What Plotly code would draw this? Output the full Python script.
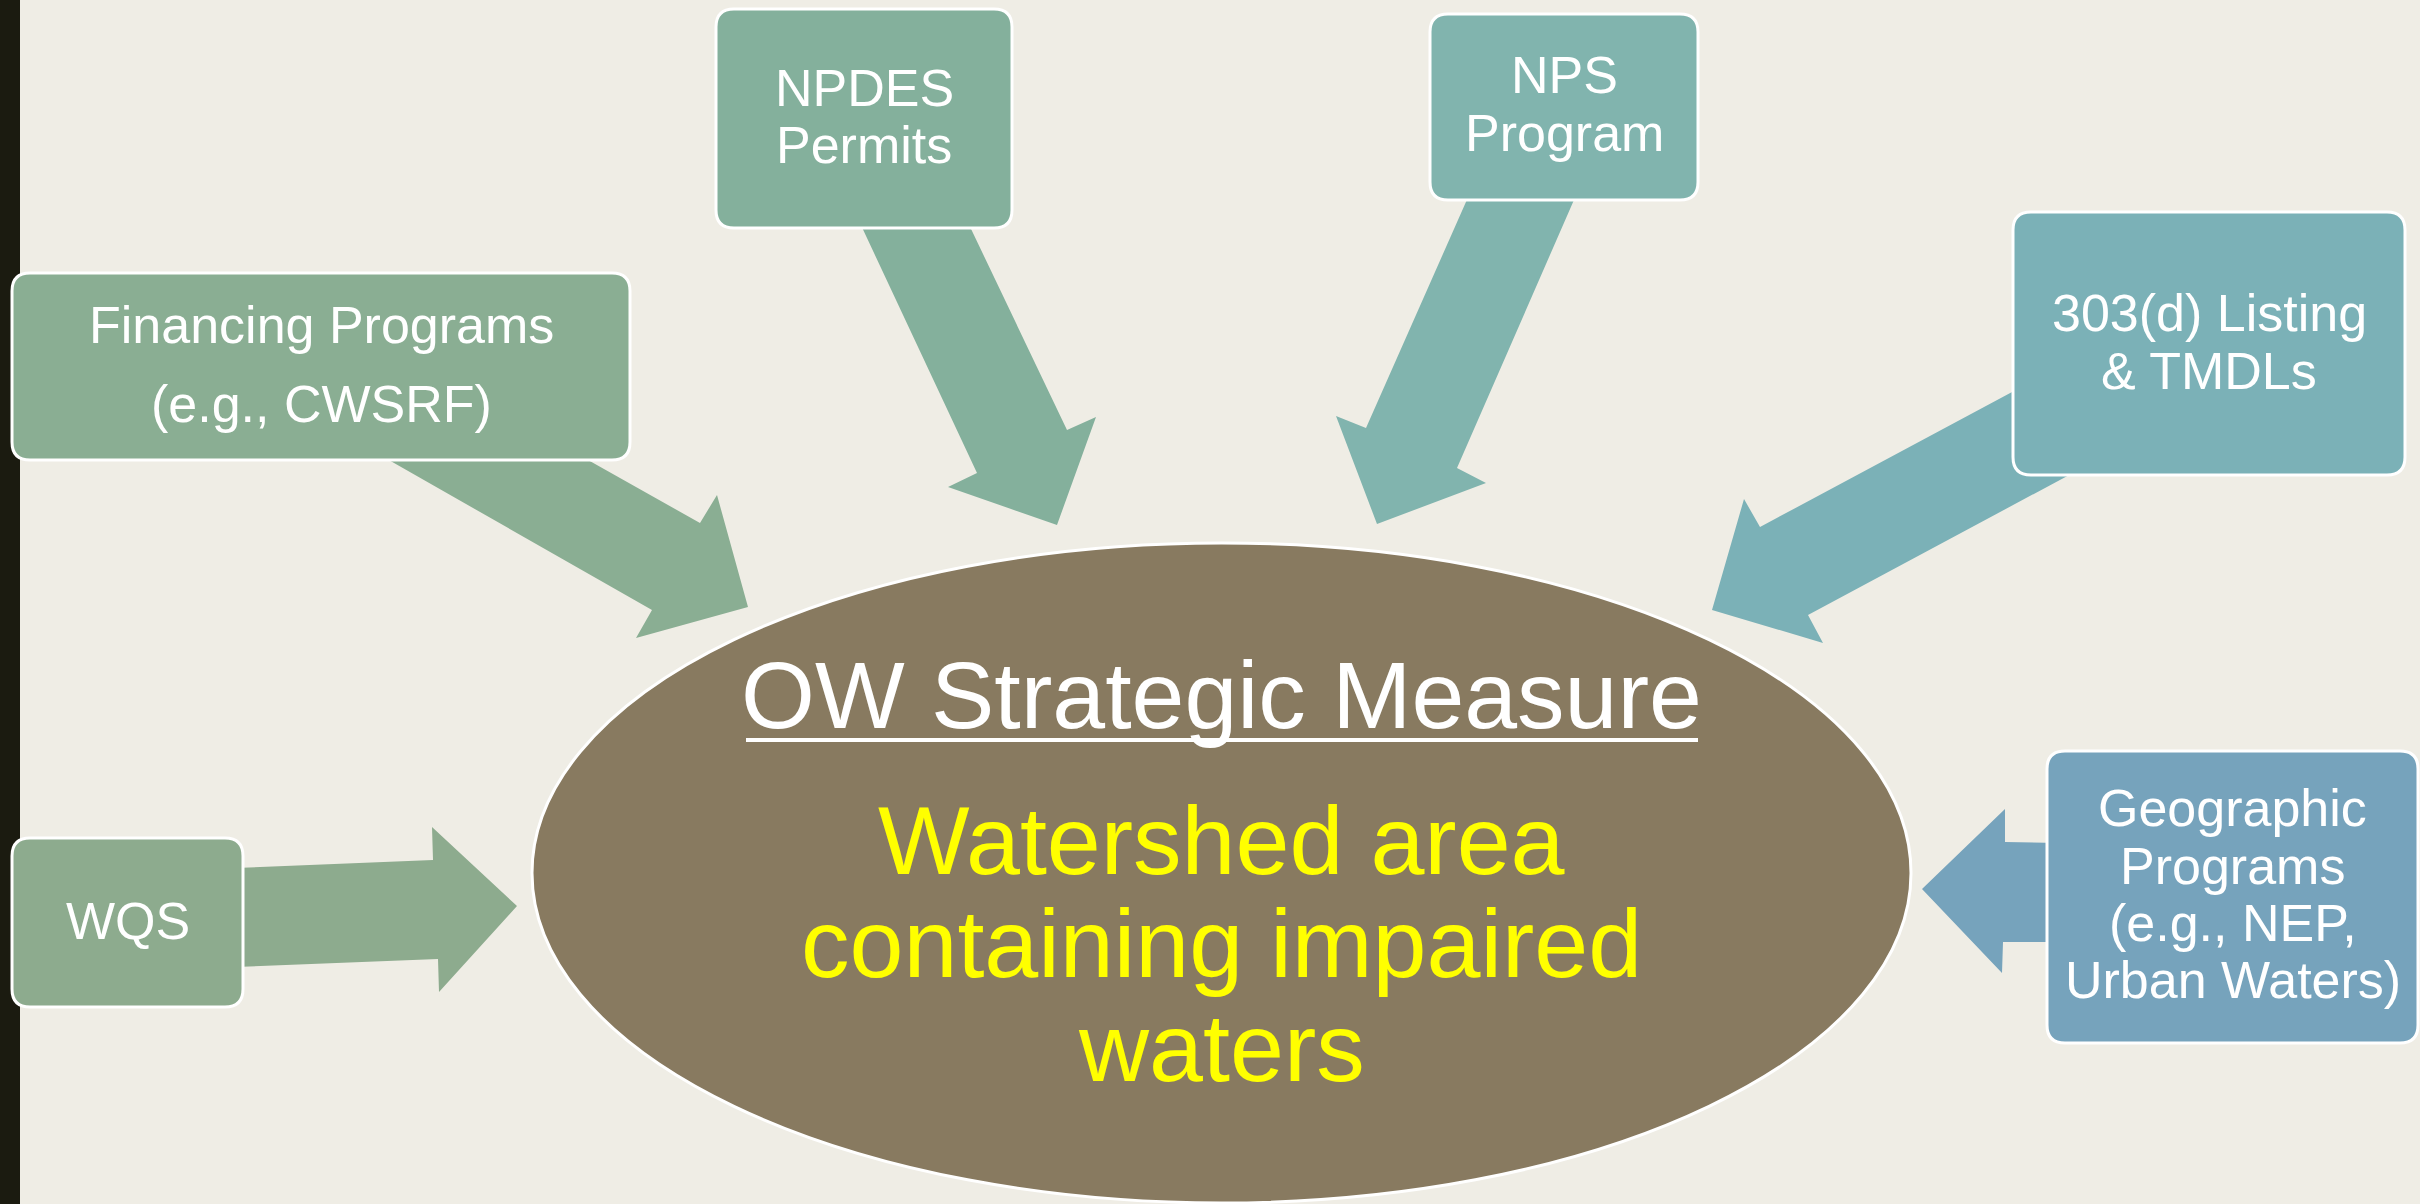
import plotly.graph_objects as go

W, H = 2420, 1204
BG = "#efede5"
FONT = "Liberation Sans, Arial, sans-serif"

# Boxes: label lines, box extents (x0, y0, x1, y1), fill colour, line centre y's
box_names = ["Financing", "NPDES", "NPS", "303d", "WQS", "Geographic"]
box_lines = [
    ["Financing Programs", "(e.g., CWSRF)"],
    ["NPDES", "Permits"],
    ["NPS", "Program"],
    ["303(d) Listing", "& TMDLs"],
    ["WQS"],
    ["Geographic", "Programs", "(e.g., NEP,", "Urban Waters)"],
]
box_extent = [
    (12, 273, 630, 460),
    (716, 9, 1012, 228),
    (1430, 14, 1698, 200),
    (2013, 212, 2405, 475),
    (12, 838, 243, 1007),
    (2047, 751, 2418, 1043),
]
box_line_y = [
    [325, 404],
    [88, 145],
    [75, 133],
    [313, 371],
    [921],
    [808, 866, 923, 980],
]
box_colors = ["#8aae93", "#84b09c", "#81b4ae", "#7bb1b7", "#8dab8e", "#76a3bc"]

# Arrow outlines (block arrows) from each box toward the ellipse
arrow_pts = [
    [(366, 447), (572, 451), (700, 523), (717, 495), (748, 607), (636, 638), (652, 610)],
    [(852, 206), (962, 210), (1067, 430), (1096, 417), (1057, 525), (948, 487), (977, 473)],
    [(1477, 177), (1584, 177), (1457, 468), (1486, 483), (1377, 524), (1336, 416), (1366, 428)],
    [(2085, 353), (2140, 437), (1808, 615), (1823, 643), (1712, 610), (1744, 499), (1760, 527)],
    [(235, 868), (433, 860), (432, 827), (517, 906), (439, 992), (438, 959), (235, 967)],
    [(2060, 843), (2005, 842), (2005, 809), (1922, 889), (2002, 973), (2003, 942), (2060, 942)],
]

# Central ellipse
ellipse = (532, 543, 1911, 1203)
title_text = "OW Strategic Measure"
title_y = 695
measure_lines = ["Watershed area", "containing impaired", "waters"]
measure_y = [840, 943, 1047]


def poly_path(pts):
    return "M " + " L ".join(f"{x},{y}" for x, y in pts) + " Z"


def rrect_path(x0, y0, x1, y1, r):
    return (f"M {x0+r},{y0} L {x1-r},{y0} Q {x1},{y0} {x1},{y0+r} "
            f"L {x1},{y1-r} Q {x1},{y1} {x1-r},{y1} "
            f"L {x0+r},{y1} Q {x0},{y1} {x0},{y1-r} "
            f"L {x0},{y0+r} Q {x0},{y0} {x0+r},{y0} Z")


shapes = []
# left dark bar
shapes.append(dict(type="rect", x0=0, x1=20, y0=0, y1=H, fillcolor="#1b1b10",
                   line=dict(width=0), layer="below"))
# arrows
for pts, col in zip(arrow_pts, box_colors):
    shapes.append(dict(type="path", path=poly_path(pts), fillcolor=col,
                       line=dict(width=0)))
# ellipse
ex0, ey0, ex1, ey1 = ellipse
shapes.append(dict(type="circle", x0=ex0, y0=ey0, x1=ex1, y1=ey1,
                   fillcolor="#887a60", line=dict(color="white", width=3)))
# underline of title
shapes.append(dict(type="line", x0=746, x1=1698, y0=740, y1=740,
                   line=dict(color="white", width=4)))
# boxes
for (x0, y0, x1, y1), col in zip(box_extent, box_colors):
    shapes.append(dict(type="path", path=rrect_path(x0, y0, x1, y1, 18),
                       fillcolor=col, line=dict(color="white", width=3)))

annotations = []
for lines, (x0, y0, x1, y1), ys in zip(box_lines, box_extent, box_line_y):
    for t, y in zip(lines, ys):
        annotations.append(dict(x=(x0 + x1) / 2, y=y, text=t, showarrow=False,
                                xanchor="center", yanchor="middle",
                                font=dict(family=FONT, size=52, color="white")))

cx = (ex0 + ex1) / 2
annotations.append(dict(x=cx, y=title_y, text=title_text, showarrow=False,
                        xanchor="center", yanchor="middle",
                        font=dict(family=FONT, size=95, color="white")))
for t, y in zip(measure_lines, measure_y):
    annotations.append(dict(x=cx, y=y, text=t, showarrow=False,
                            xanchor="center", yanchor="middle",
                            font=dict(family=FONT, size=97, color="#ffff00")))

fig = go.Figure()
fig.update_layout(
    width=W, height=H,
    margin=dict(l=0, r=0, t=0, b=0),
    paper_bgcolor=BG, plot_bgcolor=BG,
    xaxis=dict(range=[0, W], visible=False, fixedrange=True),
    yaxis=dict(range=[H, 0], visible=False, fixedrange=True),
    shapes=shapes,
    annotations=annotations,
    showlegend=False,
)
fig.write_html(
    "out.html",
    config={"displayModeBar": False},
    post_script="document.body.style.margin='0';document.body.style.overflow='hidden';"
                "document.body.style.background='" + BG + "';",
)
